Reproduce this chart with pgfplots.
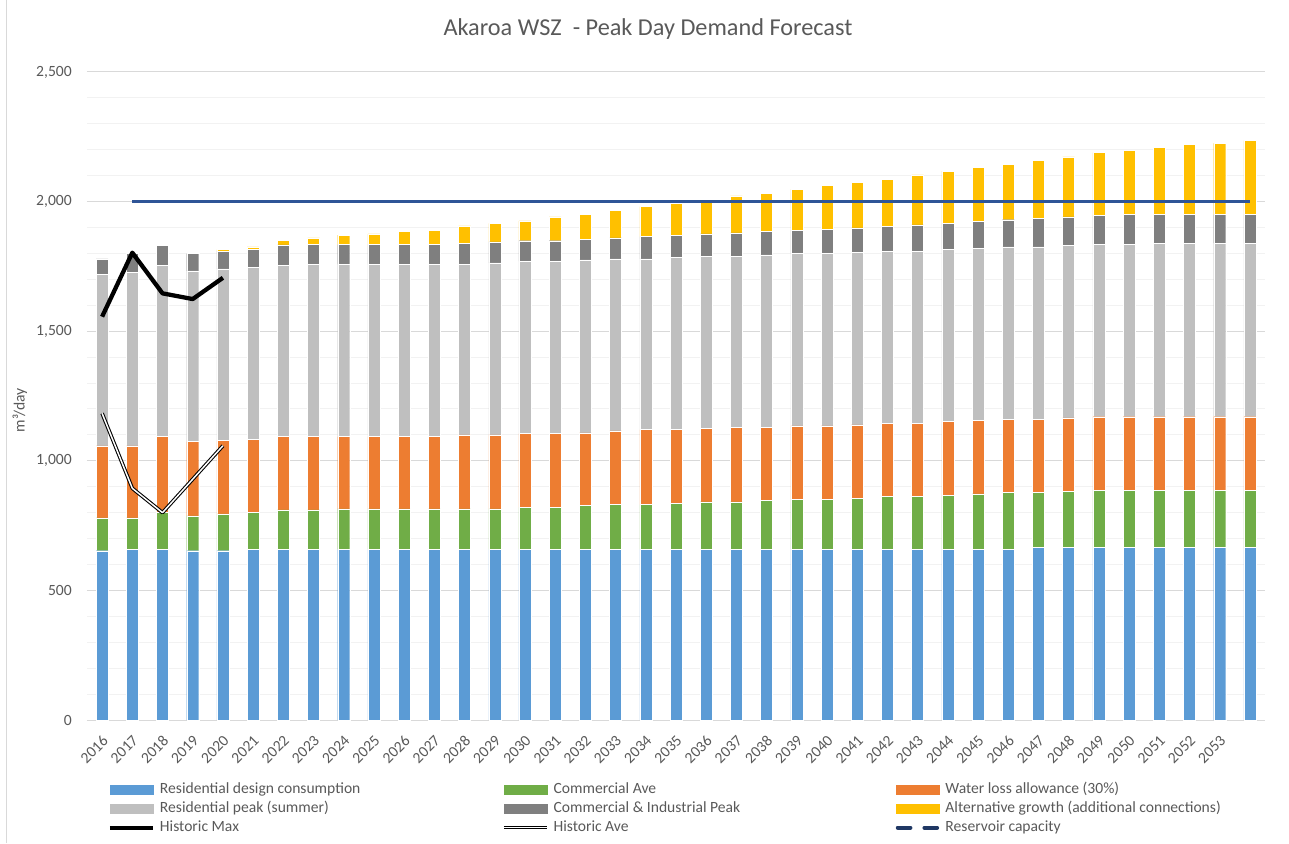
\documentclass[border=0pt]{standalone}
\usepackage{fontspec}
\setmainfont{Carlito}
\usepackage{pgfplots}
\usepackage{pgfplotstable}
\pgfplotsset{compat=1.18}

\definecolor{cres}{HTML}{5B9BD5}
\definecolor{ccom}{HTML}{70AD47}
\definecolor{closs}{HTML}{ED7D31}
\definecolor{cpeak}{HTML}{BFBFBF}
\definecolor{ccip}{HTML}{7F7F7F}
\definecolor{calt}{HTML}{FFC000}
\definecolor{capline}{HTML}{2F5597}
\definecolor{capleg}{HTML}{203864}
\definecolor{txt}{HTML}{595959}
\definecolor{gmaj}{HTML}{D9D9D9}
\definecolor{gmin}{HTML}{F2F2F2}

% stacked components, m3/day (x = 0 is 2016)
\pgfplotstableread{
x res com loss peak cip alt
0 653 127 278 661 60 0
1 658 122 278 668 74 0
2 658 142 293 662 75 0
3 653 135 286 659 66 0
4 653 142 283 662 69 6
5 658 142 284 661 70 10
6 658 153 282 662 78 17
7 658 153 282 666 75 26
8 658 157 278 666 75 37
9 658 157 278 666 75 41
10 658 157 278 666 75 52
11 658 157 278 666 75 56
12 658 157 285 659 80 67
13 658 157 285 664 81 71
14 658 162 285 665 79 77
15 658 162 285 665 79 92
16 658 169 281 667 80 96
17 658 173 284 664 81 106
18 658 173 289 659 86 116
19 658 178 284 665 84 126
20 658 184 282 666 85 129
21 658 184 287 661 89 143
22 658 189 282 665 90 149
23 658 193 284 664 90 158
24 658 193 284 664 95 168
25 658 198 283 665 95 174
26 658 204 282 665 96 182
27 658 204 282 665 101 193
28 658 209 284 664 100 203
29 658 214 283 665 105 208
30 658 219 283 665 105 214
31 665 212 283 665 110 224
32 665 217 284 664 111 232
33 665 221 284 665 111 243
34 665 221 284 665 115 249
35 665 221 284 670 110 260
36 665 221 284 670 110 270
37 665 221 284 670 110 275
38 665 221 284 670 110 285
}\demand

\pgfplotstableread{
x v
0 1556
1 1803
2 1646
3 1624
4 1706
}\histmax

\pgfplotstableread{
x v
0 1183
1 894
2 800
3 929
4 1058
}\histave

\pgfplotstableread{
x v
1 2000
38 2000
}\reservoir

\pgfplotsset{
  chartframe/.style={width=883.5pt, height=486pt, scale only axis,
    xmin=-0.5, xmax=38.5, ymin=0, ymax=2500},
  barleg/.style={legend image code/.code={\fill[#1] (0pt,-3.4pt) rectangle (32.25pt,3.4pt);}},
}
\newcommand{\lent}[1]{\hspace{3.75pt}\makebox[256.5pt][l]{#1}}

\begin{document}
\begin{tikzpicture}[font=\fontsize{11.7}{14}\selectfont]
\useasboundingbox (-65.25pt,-92.25pt) rectangle (901.5pt,540pt);
\draw[gmaj, line width=0.75pt] (-60pt,-92.25pt) -- (-60pt,540pt);

\begin{axis}[chartframe,
  ybar stacked, bar width=9pt,
  axis line style={draw=none}, tick style={draw=none},
  ytick={0,500,...,2500}, minor ytick={100,200,...,2400},
  ymajorgrids, yminorgrids,
  major grid style={gmaj, line width=0.75pt},
  minor grid style={gmin, line width=0.75pt},
  scaled y ticks=false,
  xtick={0,...,37},
  xticklabels={2016,2017,2018,2019,2020,2021,2022,2023,2024,2025,2026,2027,2028,2029,2030,2031,2032,2033,2034,2035,2036,2037,2038,2039,2040,2041,2042,2043,2044,2045,2046,2047,2048,2049,2050,2051,2052,2053},
  xticklabel style={yshift=-13.5pt, xshift=2.5pt, rotate=45, anchor=east, inner sep=0pt, text=txt},
  yticklabel style={anchor=east, inner sep=0pt, xshift=-11.25pt, text=txt},
  title={Akaroa WSZ~~- Peak Day Demand Forecast},
  title style={at={(axis description cs:0.4762,1.054)}, anchor=center, text=txt,
    font=\fontsize{18.2}{20}\selectfont},
  ylabel={m³/day},
  ylabel style={at={(axis description cs:-0.0569,0.478)}, anchor=center, text=txt},
  legend columns=3,
  legend cell align=left,
  legend style={at={(axis description cs:0.0178,-0.0961)}, anchor=north west,
    draw=none, fill=none, inner sep=0pt, outer sep=0pt, column sep=0pt, row sep=3.25pt,
    nodes={inner sep=0pt, outer sep=0pt, text=txt, text height=8.5pt, text depth=2.5pt}},
  /pgf/number format/1000 sep={,},
  /pgf/number format/assume math mode=true,
]
\addplot[fill=cres, draw=white, line width=0.3pt, barleg=cres] table[x=x, y=res]{\demand};
\addlegendentry{\lent{Residential design consumption}}
\addplot[fill=ccom, draw=white, line width=0.3pt, barleg=ccom] table[x=x, y=com]{\demand};
\addlegendentry{\lent{Commercial Ave}}
\addplot[fill=closs, draw=white, line width=0.3pt, barleg=closs] table[x=x, y=loss]{\demand};
\addlegendentry{\hspace{3.75pt}Water loss allowance (30\%)}
\addplot[fill=cpeak, draw=white, line width=0.3pt, barleg=cpeak] table[x=x, y=peak]{\demand};
\addlegendentry{\lent{Residential peak (summer)}}
\addplot[fill=ccip, draw=white, line width=0.3pt, barleg=ccip] table[x=x, y=cip]{\demand};
\addlegendentry{\lent{Commercial \& Industrial Peak}}
\addplot[fill=calt, draw=white, line width=0.3pt, barleg=calt] table[x=x, y=alt]{\demand};
\addlegendentry{\hspace{3.75pt}Alternative growth (additional connections)}
\addlegendimage{legend image code/.code={\draw[black, line width=3pt] (0pt,0pt) -- (32.25pt,0pt);}}
\addlegendentry{\lent{Historic Max}}
\addlegendimage{legend image code/.code={\draw[black, double=white, line width=0.8pt, double distance=1.1pt] (0pt,0pt) -- (32.25pt,0pt);}}
\addlegendentry{\lent{Historic Ave}}
\addlegendimage{legend image code/.code={\draw[capleg, line width=3pt, line cap=round, dash pattern=on 9.5pt off 10.5pt] (1.5pt,0pt) -- (32pt,0pt);}}
\addlegendentry{\hspace{3.75pt}Reservoir capacity}
\end{axis}

\begin{axis}[chartframe, hide axis]
\addplot[black, line width=3.2pt, line join=round] table[x=x, y=v]{\histmax};
\addplot[black, double=white, line width=0.8pt, double distance=1.1pt, line join=round] table[x=x, y=v]{\histave};
\addplot[capline, line width=2.5pt] table[x=x, y=v]{\reservoir};
\end{axis}
\end{tikzpicture}
\end{document}
